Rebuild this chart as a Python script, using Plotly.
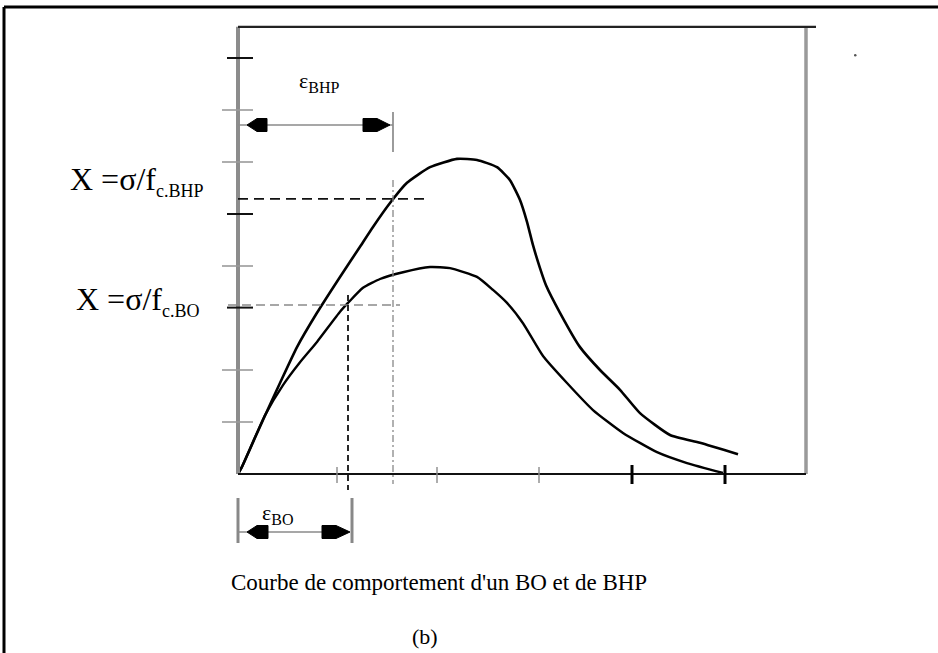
import plotly.graph_objects as go

# ---------------- data (strain / stress, arbitrary units) ----------------
bhp_strain = [0.00, 0.04, 0.25, 0.42, 0.59, 0.79, 1.02, 1.22, 1.35, 1.52, 1.69, 1.92, 2.19, 2.39,
              2.59, 2.72, 2.82, 2.89, 2.95, 3.02, 3.08, 3.22, 3.42, 3.62, 3.82, 4.02, 4.32, 4.62, 5.00]
bhp_stress = [0.00, 0.14, 1.04, 1.75, 2.44, 3.10, 3.79, 4.37, 4.75, 5.21, 5.60, 5.90, 6.06, 6.04,
              5.90, 5.65, 5.27, 4.85, 4.40, 3.96, 3.63, 3.10, 2.44, 2.00, 1.62, 1.17, 0.75, 0.60, 0.38]

bo_strain = [0.00, 0.04, 0.27, 0.45, 0.62, 0.79, 1.02, 1.10, 1.25, 1.42, 1.65, 1.92, 2.12, 2.39,
             2.55, 2.69, 2.85, 3.05, 3.29, 3.55, 3.85, 4.19, 4.49, 4.85]
bo_stress = [0.00, 0.14, 1.13, 1.71, 2.15, 2.54, 3.12, 3.29, 3.58, 3.75, 3.88, 3.98, 3.96, 3.79,
             3.54, 3.29, 2.90, 2.27, 1.75, 1.23, 0.79, 0.42, 0.21, 0.02]

y_ticks_grey = [1.0, 2.0, 4.0, 6.0, 7.0]
y_ticks_black = [3.2, 5.0, 8.0]
x_ticks_grey = [0.99, 1.99, 3.01]
x_ticks_black = [3.94, 4.87]

eps_bhp, sig_bhp = 1.55, 5.29
eps_bo, sig_bo = 1.10, 3.25
x_max, y_max = 5.68, 8.6

label_bhp = "X =σ/f<sub><span style='font-size:18px'>c.BHP</span></sub>"
label_bo = "X =σ/f<sub><span style='font-size:18px'>c.BO</span></sub>"
label_eps_bhp = "ε<sub><span style='font-size:16px'>BHP</span></sub>"
label_eps_bo = "ε<sub><span style='font-size:16px'>BO</span></sub>"
caption = "Courbe de comportement d'un BO et de BHP"
sublabel = "(b)"

# ---------------- layout geometry ----------------
W, H = 938, 653
ORIGIN_PX, ORIGIN_PY = 238, 474      # pixel position of the data origin
PX_PER_X, PX_PER_Y = 100.0, 52.0
x_range = [(0 - ORIGIN_PX) / PX_PER_X, (W - ORIGIN_PX) / PX_PER_X]
y_range = [(ORIGIN_PY - H) / PX_PER_Y, (ORIGIN_PY - 0) / PX_PER_Y]

def vx(px):   # a pixel column expressed in axis units (for decorations)
    return (px - ORIGIN_PX) / PX_PER_X

def vy(py):
    return (ORIGIN_PY - py) / PX_PER_Y

def ppx(px):
    return px / W

def ppy(py):
    return 1 - py / H

FONT = "Liberation Serif, Times New Roman, serif"

fig = go.Figure()

fig.add_trace(go.Scatter(x=bhp_strain, y=bhp_stress, mode="lines",
                         line=dict(color="black", width=2.6, shape="spline", smoothing=0.5),
                         hoverinfo="skip", showlegend=False))
fig.add_trace(go.Scatter(x=bo_strain, y=bo_stress, mode="lines",
                         line=dict(color="black", width=2.4, shape="spline", smoothing=0.5),
                         hoverinfo="skip", showlegend=False))

shapes = []

def line(x0, y0, x1, y1, color, width, dash="solid", **kw):
    d = dict(type="line", xref="x", yref="y", x0=x0, y0=y0, x1=x1, y1=y1,
             line=dict(color=color, width=width, dash=dash), layer="above")
    d.update(kw)
    shapes.append(d)

# axes frame
line(0, 0, 0, y_max, "#8c8c8c", 4)
line(x_max, 0, x_max, y_max, "#9a9a9a", 3.5)
line(0, y_max, vx(816), y_max, "#222", 2.2)
line(0, 0, x_max, 0, "#111", 2)

# y ticks (cross the left axis)
for v in y_ticks_grey:
    shapes.append(dict(type="line", xref="x", yref="y", xsizemode="pixel", xanchor=0,
                       x0=-16, x1=15, y0=v, y1=v, line=dict(color="#9a9a9a", width=1.6)))
for v in y_ticks_black:
    shapes.append(dict(type="line", xref="x", yref="y", xsizemode="pixel", xanchor=0,
                       x0=-11, x1=15, y0=v, y1=v, line=dict(color="#111", width=2)))
# x ticks
for v in x_ticks_grey:
    shapes.append(dict(type="line", xref="x", yref="y", ysizemode="pixel", yanchor=0,
                       x0=v, x1=v, y0=-9, y1=7, line=dict(color="#8a8a8a", width=1.4)))
for v in x_ticks_black:
    shapes.append(dict(type="line", xref="x", yref="y", ysizemode="pixel", yanchor=0,
                       x0=v, x1=v, y0=-10, y1=9, line=dict(color="#000", width=3)))

# construction lines for BHP
line(0, sig_bhp, vx(425), sig_bhp, "#111", 1.6, dash="10px,6px")
line(eps_bhp, vy(112), eps_bhp, vy(152), "#666", 1.3)
line(eps_bhp, vy(180), eps_bhp, vy(484), "#888", 1.3, dash="7px,3px,2px,3px")
# construction lines for BO
line(vx(228), sig_bo, vx(400), sig_bo, "#8a8a8a", 1.4, dash="9px,5px")
line(eps_bo, vy(295), eps_bo, vy(490), "#111", 1.8, dash="6px,4px")

# strain arrows
def head(xanchor, y, path):
    shapes.append(dict(type="path", xref="x", yref="y", xsizemode="pixel", ysizemode="pixel",
                       xanchor=xanchor, yanchor=y, fillcolor="black",
                       line=dict(color="black", width=1), path=path))

y_arr_bhp = vy(125)
line(0, y_arr_bhp, eps_bhp, y_arr_bhp, "#8a8a8a", 1.6)
head(0, y_arr_bhp, "M 9 0 L 19 6.5 L 29 6.5 L 29 -6.5 L 19 -6.5 Z")
head(eps_bhp, y_arr_bhp, "M -3 0 L -16 6.5 L -30 6.5 L -30 -6.5 L -16 -6.5 Z")

# BO strain arrow with its two end bars
y_arr_bo = vy(532)
shapes.append(dict(type="line", xref="x", yref="y", x0=0, x1=0, y0=vy(498), y1=vy(543),
                   line=dict(color="#888", width=3)))
shapes.append(dict(type="line", xref="x", yref="y", xsizemode="pixel", xanchor=eps_bo,
                   x0=4, x1=4, y0=vy(498), y1=vy(543), line=dict(color="#888", width=3)))
line(0, y_arr_bo, eps_bo, y_arr_bo, "#8a8a8a", 1.6)
head(0, y_arr_bo, "M 9 0 L 19 6.5 L 30 6.5 L 30 -6.5 L 19 -6.5 Z")
head(eps_bo, y_arr_bo, "M 2 0 L -12 6.5 L -26 6.5 L -26 -6.5 L -12 -6.5 Z")

# outer picture frame (cut at right and bottom)
shapes.append(dict(type="line", xref="paper", yref="paper", x0=ppx(4), x1=ppx(950), y0=ppy(7), y1=ppy(7),
                   line=dict(color="black", width=3)))
shapes.append(dict(type="line", xref="paper", yref="paper", x0=ppx(4), x1=ppx(4), y0=ppy(7), y1=ppy(670),
                   line=dict(color="black", width=3)))
# small speck top right
shapes.append(dict(type="circle", xref="paper", yref="paper", x0=ppx(854), x1=ppx(856.5),
                   y0=ppy(54), y1=ppy(56.5), fillcolor="#555", line=dict(width=0)))

annotations = [
    dict(text=label_eps_bhp, x=ppx(297), y=ppy(82), xanchor="left", yanchor="middle",
         font=dict(size=22)),
    dict(text=label_bhp, x=ppx(205), y=ppy(181), xanchor="right", yanchor="middle",
         font=dict(size=32)),
    dict(text=label_bo, x=ppx(201), y=ppy(301), xanchor="right", yanchor="middle",
         font=dict(size=32)),
    dict(text=label_eps_bo, x=ppx(260), y=ppy(514), xanchor="left", yanchor="middle",
         font=dict(size=22)),
    dict(text=caption, x=ppx(229), y=ppy(582), xanchor="left", yanchor="middle",
         font=dict(size=23)),
    dict(text=sublabel, x=ppx(425), y=ppy(636), xanchor="center", yanchor="middle",
         font=dict(size=22)),
]
for a in annotations:
    a.update(xref="paper", yref="paper", showarrow=False)
    a["font"].update(family=FONT, color="black")

fig.update_layout(
    width=W, height=H, margin=dict(l=0, r=0, t=0, b=0),
    paper_bgcolor="white", plot_bgcolor="white",
    xaxis=dict(range=x_range, visible=False, fixedrange=True),
    yaxis=dict(range=y_range, visible=False, fixedrange=True),
    shapes=shapes, annotations=annotations, showlegend=False,
    font=dict(family=FONT),
)

fig.write_html("out.html", config={"displayModeBar": False})
